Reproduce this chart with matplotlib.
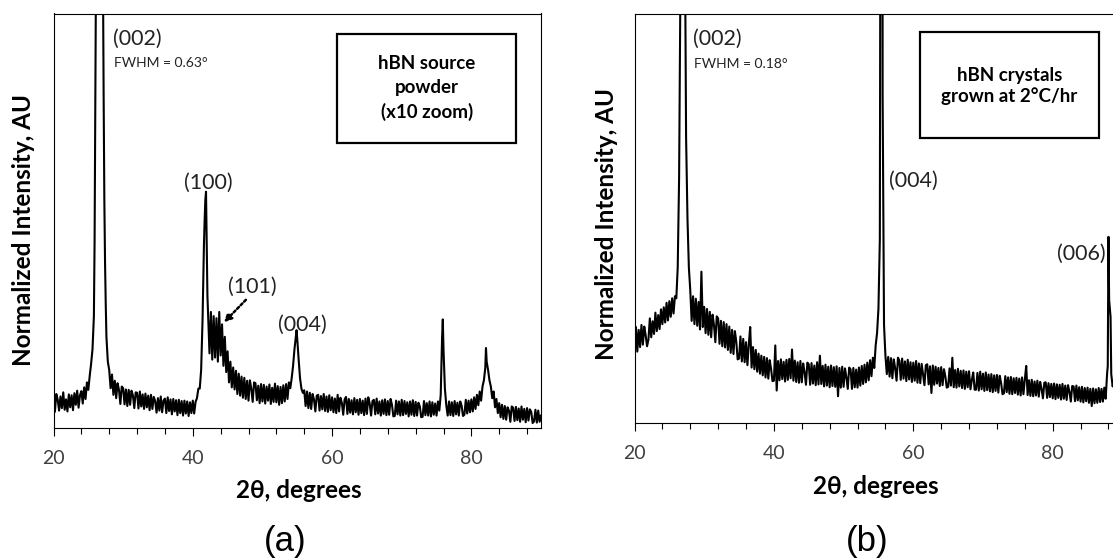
import numpy as np
import matplotlib
matplotlib.use("Agg")
import matplotlib.pyplot as plt
from matplotlib.patches import Rectangle
from matplotlib.ticker import MultipleLocator

plt.rcParams['font.family'] = ['Lato', 'DejaVu Sans']

# scan grid, 2theta in degrees (0.2 deg step)
two_theta = np.round(np.arange(20, 90.001, 0.2), 1)

# (a) hBN source powder, x10 zoom - intensity in % of plot height
powder = [
    6.4, 3.9, 8.2, 6.9, 4.2,
    7.6, 4.8, 8.6, 4.4, 6.9,
    4.0, 8.1, 5.0, 7.9, 4.3,
    8.4, 5.6, 9.0, 4.9, 7.9,
    8.9, 5.9, 9.8, 7.0, 11.0,
    9.2, 12.6, 15.5, 19.0, 27.0,
    75, 180, 500, 1000, 500,
    180, 80, 40, 22, 16,
    14.0, 9.6, 12.9, 8.0, 11.4,
    7.2, 10.8, 9.2, 5.8, 10.0,
    9.6, 5.7, 9.3, 5.3, 9.2,
    5.6, 9.0, 7.9, 4.8, 8.6,
    8.5, 4.7, 8.8, 5.2, 8.1,
    4.6, 8.3, 5.0, 7.8, 4.3,
    8.0, 4.6, 7.5, 6.5, 3.7,
    7.2, 4.2, 7.6, 3.8, 6.6,
    7.1, 3.6, 7.4, 4.1, 6.9,
    3.3, 7.0, 4.0, 6.7, 3.1,
    6.8, 3.6, 6.5, 3.0, 6.6,
    3.5, 6.4, 2.9, 6.2, 3.6,
    6.6, 3.5, 6.3, 7.2, 9.5,
    9.5, 14.0, 26.0, 44.0, 55.0,
    44.0, 27.5, 18.0, 28.0, 16.5,
    27.0, 17.0, 26.5, 16.0, 28.0,
    17.5, 25.0, 15.0, 22.0, 13.5,
    18.5, 11.0, 16.0, 9.8, 14.6,
    9.3, 13.8, 8.2, 13.1, 7.8,
    12.4, 7.3, 12.1, 7.0, 11.4,
    6.6, 11.5, 9.5, 6.3, 11.0,
    10.8, 6.7, 10.2, 6.0, 10.6,
    6.4, 10.4, 5.9, 10.0, 6.6,
    10.5, 5.8, 9.7, 6.3, 10.7,
    6.2, 10.1, 5.6, 9.9, 6.0,
    10.3, 6.4, 10.6, 7.0, 11.0,
    9.6, 12.0, 15.0, 19.0, 22.0,
    21.5, 16.5, 12.0, 9.5, 8.5,
    9.1, 5.3, 8.8, 4.8, 8.5,
    4.6, 8.2, 6.9, 4.0, 7.8,
    8.0, 4.2, 7.7, 4.5, 8.2,
    4.1, 7.6, 3.9, 7.9, 4.3,
    7.4, 3.8, 7.1, 3.6, 8.0,
    4.0, 7.3, 6.1, 3.2, 6.9,
    7.5, 3.4, 7.0, 3.7, 6.7,
    3.3, 7.2, 3.8, 6.8, 3.2,
    7.0, 3.6, 6.6, 3.1, 7.1,
    3.4, 7.4, 5.9, 3.0, 6.5,
    6.8, 3.3, 7.1, 3.5, 6.4,
    3.0, 6.7, 3.4, 6.9, 3.1,
    6.5, 3.2, 7.0, 5.6, 2.8,
    2.9, 6.6, 3.3, 6.4, 3.0,
    6.8, 3.1, 6.5, 3.4, 6.2,
    2.8, 6.4, 3.2, 6.7, 2.9,
    6.3, 3.0, 6.1, 5.2, 2.6,
    2.7, 6.5, 3.1, 6.0, 3.0,
    6.4, 2.8, 6.2, 3.2, 5.9,
    3.0, 6.4, 4.2, 8.0, 22.0,
    19.0, 9.5, 5.5, 3.0, 6.4,
    3.1, 6.2, 2.9, 6.5, 3.3,
    6.1, 3.0, 6.4, 5.4, 2.9,
    3.2, 6.8, 3.5, 6.6, 3.8,
    6.9, 4.0, 7.4, 4.6, 8.0,
    5.5, 8.8, 6.6, 10.0, 11.5,
    14.5, 16.0, 14.0, 11.5, 10.0,
    7.2, 8.8, 5.0, 7.0, 3.6,
    6.0, 2.6, 5.6, 2.2, 5.3,
    2.0, 5.0, 4.2, 1.5, 5.2,
    4.9, 1.7, 5.1, 1.9, 4.7,
    1.5, 5.2, 2.0, 4.6, 1.4,
    4.8, 1.8, 4.5, 3.9, 1.2,
    1.6, 4.4, 1.3, 4.2, 1.5,
    3.0,
]
# extra points on the sharp peaks
powder_peak_x = [25.9, 26.1, 27.1, 27.3, 27.5, 41.7, 41.9, 42.1, 54.9, 75.9, 82.1]
powder_peak_y = [45, 110, 110, 55, 30, 50, 57, 32, 23.6, 26.2, 19.3]

# (b) hBN crystals grown at 2 C/hr
crystal = [
    19.0, 23.5, 17.5, 22.8, 18.6,
    24.0, 19.2, 23.6, 21.5, 18.8,
    20.4, 25.6, 21.0, 24.9, 21.8,
    27.0, 22.5, 26.4, 23.0, 27.8,
    24.2, 28.3, 24.6, 29.4, 25.1,
    29.8, 26.0, 30.5, 26.8, 31.0,
    30.5, 38.0, 60.0, 110.0, 400.0,
    1000.0, 130.0, 70.0, 50.0, 38.0,
    32.5, 25.0, 31.0, 24.2, 30.4,
    23.8, 29.6, 22.9, 37.0, 23.5,
    28.4, 22.0, 27.9, 21.6, 27.2,
    21.0, 26.5, 24.0, 19.8, 26.1,
    25.6, 19.4, 25.0, 18.8, 24.7,
    18.5, 24.2, 17.9, 23.6, 17.2,
    22.8, 16.9, 22.5, 20.0, 15.6,
    15.8, 21.2, 15.1, 20.6, 14.9,
    19.8, 14.2, 19.3, 23.5, 13.6,
    18.6, 13.2, 17.9, 12.6, 17.0,
    12.1, 16.5, 11.7, 16.2, 11.2,
    15.9, 10.9, 15.4, 13.2, 10.3,
    10.4, 19.0, 8.0, 15.2, 10.5,
    15.6, 10.8, 15.0, 10.2, 15.5,
    10.6, 15.7, 11.0, 18.0, 10.4,
    15.3, 10.1, 14.9, 9.9, 15.2,
    10.0, 14.6, 12.5, 9.4, 14.8,
    14.4, 9.4, 14.7, 9.7, 14.1,
    9.3, 14.9, 9.5, 16.5, 9.6,
    14.0, 9.0, 14.3, 9.2, 13.8,
    8.8, 14.1, 9.1, 13.7, 8.9,
    13.9, 6.6, 13.5, 8.7, 13.8,
    8.9, 13.4, 11.2, 8.4, 13.6,
    13.2, 8.4, 13.5, 8.8, 13.1,
    8.7, 13.6, 9.2, 14.0, 9.6,
    14.3, 10.0, 14.8, 10.5, 15.4,
    11.5, 16.0, 13.5, 19.0, 22.0,
    28.0, 45.0, 1000.0, 80.0, 24.0,
    16.5, 12.0, 16.2, 11.4, 15.9,
    11.0, 15.6, 13.4, 10.4, 16.0,
    15.3, 10.6, 15.8, 10.9, 15.1,
    10.3, 15.5, 10.7, 14.9, 10.1,
    14.8, 10.4, 15.2, 9.9, 14.6,
    9.8, 14.5, 12.0, 9.3, 14.2,
    14.4, 9.5, 13.9, 7.4, 14.1,
    9.4, 13.8, 9.7, 13.5, 9.1,
    13.7, 9.3, 13.2, 11.4, 8.7,
    8.9, 13.4, 9.2, 16.0, 8.8,
    13.0, 8.7, 13.3, 9.0, 12.8,
    8.6, 12.9, 8.4, 12.6, 8.8,
    12.7, 8.3, 10.6, 12.4, 8.2,
    8.2, 12.3, 8.0, 12.6, 8.3,
    12.1, 7.9, 12.4, 8.1, 11.9,
    7.8, 12.0, 7.6, 11.7, 7.9,
    11.8, 7.5, 11.6, 9.8, 7.1,
    7.3, 11.5, 7.6, 11.2, 7.2,
    11.3, 7.1, 11.0, 7.4, 11.1,
    7.0, 10.9, 6.8, 11.2, 7.1,
    10.7, 14.0, 6.9, 10.5, 6.7,
    10.6, 6.6, 10.2, 6.8, 10.4,
    6.5, 10.1, 8.4, 6.1, 9.9,
    10.0, 6.2, 9.8, 6.4, 9.6,
    6.1, 9.7, 5.9, 9.5, 6.2,
    9.4, 5.8, 9.6, 6.0, 9.2,
    5.7, 9.3, 7.7, 5.3, 9.1,
    9.0, 5.4, 9.2, 5.6, 8.8,
    5.3, 8.9, 5.1, 8.6, 5.4,
    8.7, 5.0, 8.4, 4.2, 8.5,
    4.9, 8.3, 5.0, 8.6, 5.2,
    8.4, 5.3, 8.7, 6.0, 12.0,
    45.5, 28.0, 12.0, 9.0, 10.5,
    7.5, 10.2, 7.2, 9.8, 7.0,
    9.5,
]
crystal_peak_x = [26.9, 27.1, 55.3, 55.5, 87.9, 88.1, 88.3]
crystal_peak_y = [800, 350, 150, 400, 14, 30, 26]


def merge(grid_x, grid_y, px, py):
    x = np.concatenate([grid_x, px])
    y = np.concatenate([grid_y, py])
    order = np.argsort(x, kind="stable")
    return x[order], y[order]


def style_axes(ax):
    ax.set_xlim(20, 90)
    ax.set_ylim(0, 100)
    ax.set_yticks([])
    ax.xaxis.set_major_locator(MultipleLocator(20))
    ax.xaxis.set_minor_locator(MultipleLocator(4))
    ax.tick_params(axis='x', which='major', direction='out', length=5.8, width=0.8,
                   labelsize=14, labelcolor='#404040', pad=10)
    ax.tick_params(axis='x', which='minor', direction='out', length=4.3, width=0.8)
    for s in ax.spines.values():
        s.set_linewidth(0.8)
        s.set_color('black')


fig = plt.figure(figsize=(11.13, 5.58), dpi=100)
W, H = 1113.0, 558.0

ax1 = fig.add_axes([53.5 / W, (H - 428) / H, 487.5 / W, 414.5 / H])
ax2 = fig.add_axes([634.5 / W, (H - 423.3) / H, 487.9 / W, 409.8 / H])

xa, ya = merge(two_theta, powder, powder_peak_x, powder_peak_y)
ax1.plot(xa, ya, color='black', linewidth=1.5)
style_axes(ax1)

xb, yb = merge(two_theta, crystal, crystal_peak_x, crystal_peak_y)
ax2.plot(xb, yb, color='black', linewidth=1.5)
style_axes(ax2)

# annotations, panel (a)
ax1.text(28.5, 93.8, "(002)", fontsize=15.5, va='center', ha='left', color='#222222')
ax1.text(28.7, 88.1, "FWHM = 0.63°", fontsize=10, va='center', ha='left', color='#222222')
ax1.text(42.2, 59.1, "(100)", fontsize=15.5, va='center', ha='center', color='#222222')
ax1.text(48.6, 34.0, "(101)", fontsize=15.5, va='center', ha='center', color='#222222')
ax1.text(55.75, 24.9, "(004)", fontsize=15.5, va='center', ha='center', color='#222222')
ax1.annotate("", xy=(44.2, 25.0), xytext=(47.9, 31.4),
             arrowprops=dict(arrowstyle='-|>', linestyle=(0, (1, 1)), color='black', lw=1.8,
                             mutation_scale=11))
ax1.add_patch(Rectangle((60.7, 68.8), 25.7, 26.2, fill=False, edgecolor='black', linewidth=1.6))
ax1.text(73.6, 82.0, "hBN source\npowder\n(x10 zoom)", fontsize=13.5, fontweight='bold',
         ha='center', va='center', linespacing=1.5)

# annotations, panel (b)
ax2.text(28.4, 93.8, "(002)", fontsize=15.5, va='center', ha='left', color='#222222')
ax2.text(28.55, 87.7, "FWHM = 0.18°", fontsize=10, va='center', ha='left', color='#222222')
ax2.text(56.5, 59.2, "(004)", fontsize=15.5, va='center', ha='left', color='#222222')
ax2.text(87.65, 41.4, "(006)", fontsize=15.5, va='center', ha='right', color='#222222')
ax2.add_patch(Rectangle((61.0, 69.5), 25.6, 26.0, fill=False, edgecolor='black', linewidth=1.6))
ax2.text(73.8, 82.3, "hBN crystals\ngrown at 2°C/hr", fontsize=13.5, fontweight='bold',
         ha='center', va='center', linespacing=1.25)

# axis titles and panel letters
fig.text(24 / W, 1 - 229.7 / H, "Normalized Intensity, AU", rotation=90, fontsize=17.5,
         fontweight='bold', ha='center', va='center')
fig.text(606 / W, 1 - 224 / H, "Normalized Intensity, AU", rotation=90, fontsize=17.5,
         fontweight='bold', ha='center', va='center')
fig.text(299 / W, 1 - 491 / H, "2θ, degrees", fontsize=17.5, fontweight='bold',
         ha='center', va='center')
fig.text(876 / W, 1 - 487 / H, "2θ, degrees", fontsize=17.5, fontweight='bold',
         ha='center', va='center')
fig.text(285 / W, 1 - 542 / H, "(a)", fontsize=25, family='Liberation Sans',
         ha='center', va='center')
fig.text(866.7 / W, 1 - 541 / H, "(b)", fontsize=25, family='Liberation Sans',
         ha='center', va='center')

fig.savefig("out.png", dpi=100)
